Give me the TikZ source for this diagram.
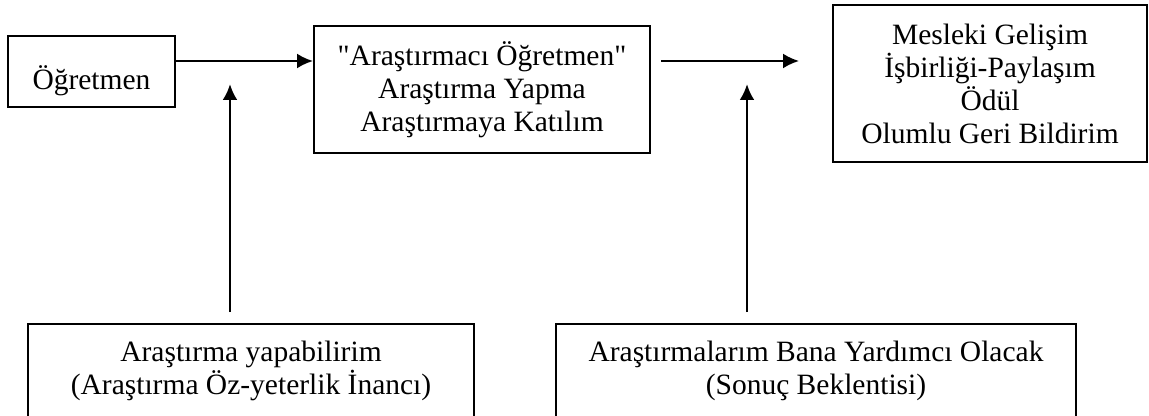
\documentclass[tikz,border=0pt]{standalone}
\usepackage{fontspec}
\newfontfamily\yazi{Liberation Serif}
\usetikzlibrary{arrows.meta,calc,positioning}

\begin{document}
\begin{tikzpicture}[x=0.5pt,y=-0.5pt,
  kutu/.style={draw,line width=1pt,align=center,inner sep=0pt,font=\yazi\fontsize{14.75}{16.5}\selectfont},
  ok/.style={line width=1.1pt,-{Latex[length=8pt,width=7.5pt]}}]
%Bildgroesse wie Vorlage, die unteren Kaesten sind unten abgeschnitten
\useasboundingbox (0,0) rectangle (1149,416);
\clip (0,0) rectangle (1149,416);
%obere Reihe
\node[kutu,minimum width=83.5pt,minimum height=35.5pt,text height=18pt,text depth=0pt] (ogretmen) at (91.5,71.5) {Öğretmen};
\node[kutu,minimum width=168pt,minimum height=63.5pt] (arastirmaci) at (482,89.5) {"Araştırmacı Öğretmen"\\Araştırma Yapma\\Araştırmaya Katılım};
\node[kutu,minimum width=157pt,minimum height=78.5pt] (gelisim) at (990,83.5) {Mesleki Gelişim\\İşbirliği-Paylaşım\\Ödül\\Olumlu Geri Bildirim};
%untere Reihe
\node[kutu,anchor=north,minimum width=223pt,inner ysep=8.5pt,text depth=40pt] (yeterlik) at (251,323) {Araştırma yapabilirim\\(Araştırma Öz-yeterlik İnancı)};
\node[kutu,anchor=north,minimum width=260pt,inner ysep=8.5pt,text depth=40pt] (beklenti) at (816,323) {Araştırmalarım Bana Yardımcı Olacak\\(Sonuç Beklentisi)};
%Pfeile
\coordinate (ust) at (0,61);
\draw[ok] (ogretmen.east |- ust) -- (arastirmaci.west |- ust);
\draw[ok] ([xshift=5pt]arastirmaci.east |- ust) -- ([xshift=-16.5pt]gelisim.west |- ust);
\foreach \kasten/\x in {yeterlik/230,beklenti/747}{
\coordinate (ucu) at (\x,84);
\draw[ok,line width=1.4pt] ([yshift=5.5pt]\kasten.north -| ucu) -- (ucu);
}
\end{tikzpicture}
\end{document}
